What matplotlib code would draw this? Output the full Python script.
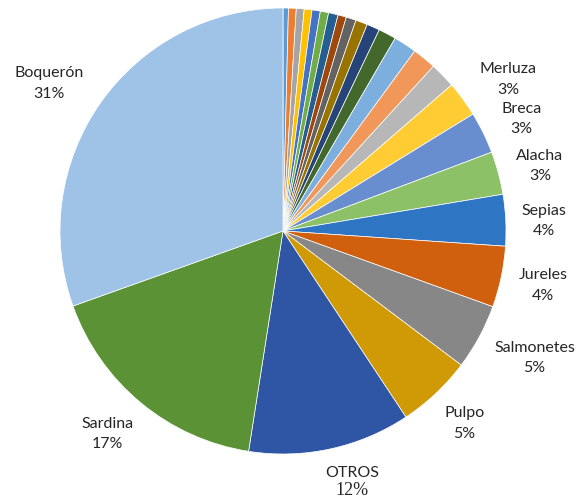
import matplotlib
matplotlib.use("Agg")
import matplotlib.pyplot as plt
import numpy as np

# Slices in clockwise order starting at 12 o'clock (values in %)
names = ["", "", "", "", "", "", "", "", "", "", "", "", "", "", "",
         "Merluza", "Breca", "Alacha", "Sepias", "Jureles", "Salmonetes",
         "Pulpo", "OTROS", "Sardina", "Boquerón"]
values = [0.39, 0.56, 0.57, 0.56, 0.60, 0.60, 0.69, 0.61, 0.72, 0.86, 0.94, 1.28,
          1.67, 1.72, 1.86, 2.58, 3.03, 3.11, 3.72, 4.42, 4.75, 5.44, 11.75,
          17.06, 30.44]
pct_labels = ["", "", "", "", "", "", "", "", "", "", "", "", "", "", "",
              "3%", "3%", "3%", "4%", "4%", "5%", "5%", "12%", "17%", "31%"]
colors = ["#5B9BD5", "#ED7D31", "#A5A5A5", "#FFC000", "#4472C4", "#70AD47",
          "#255E91", "#9E480E", "#636363", "#997300", "#264478", "#43682B",
          "#7CAFDD", "#F1975A", "#B7B7B7", "#FFCD33", "#698ED0", "#8CC168",
          "#2E75C4", "#D0600E", "#878787", "#CF9A06", "#2F55A5", "#5B9236",
          "#9EC3E7"]
# small angular nudges (degrees, counter-clockwise) for label placement
label_nudge = {"Boquerón": 2.9, "OTROS": 3.0, "Salmonetes": 1.6, "Merluza": -2.3,
               "Sardina": -1.2, "Alacha": -0.9, "Sepias": -0.6, "Breca": -1.0}

fig = plt.figure(figsize=(5.79, 5.03), dpi=100)
ax = fig.add_axes([60 / 579, 49 / 503, 446 / 579, 446 / 503])

wedges, _ = ax.pie(values, colors=colors, startangle=90, counterclock=False,
                   wedgeprops=dict(edgecolor="white", linewidth=0.5))
ax.set_xlim(-1, 1)
ax.set_ylim(-1, 1)
ax.set_aspect("equal")

fig.canvas.draw()
renderer = fig.canvas.get_renderer()
rpx = ax.transData.transform((1, 0))[0] - ax.transData.transform((0, 0))[0]
pad_px = 15.0
txt_color = "#262626"

for w, name, pct in zip(wedges, names, pct_labels):
    if not name:
        continue
    mid = np.deg2rad((w.theta1 + w.theta2) / 2 + label_nudge.get(name, 0.0))
    c, s = np.cos(mid), np.sin(mid)
    if name == "OTROS":
        gap = 2.0 / rpx
        t1 = ax.text(0, 0, name, ha="center", va="bottom", fontsize=11.5,
                     family="Lato", color=txt_color)
        t2 = ax.text(0, 0, pct, ha="center", va="top", fontsize=13,
                     family="Liberation Serif", color=txt_color)
        b1 = t1.get_window_extent(renderer)
        b2 = t2.get_window_extent(renderer)
        hw = max(b1.width, b2.width) / 2
        hh = (b1.height + b2.height + 2.0) / 2
        d = (rpx + pad_px + hw * abs(c) + hh * abs(s)) / rpx
        x, y = d * c, d * s
        off = (hh - b1.height) / rpx
        t1.set_position((x, y + off))
        t2.set_position((x, y + off - gap))
    else:
        t = ax.text(0, 0, name + "\n" + pct, ha="center", va="center",
                    fontsize=11.5, family="Lato", color=txt_color,
                    linespacing=1.6, multialignment="center")
        bb = t.get_window_extent(renderer)
        hw, hh = bb.width / 2, bb.height / 2
        d = (rpx + pad_px + hw * abs(c) + hh * abs(s)) / rpx
        t.set_position((d * c, d * s))

fig.savefig("out.png", dpi=100)
